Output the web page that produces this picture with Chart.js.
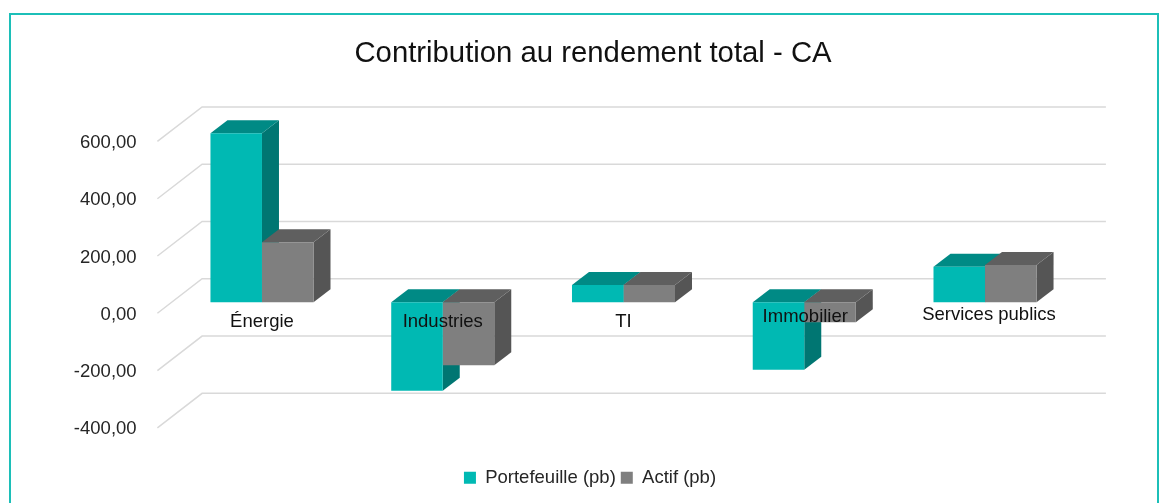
<!DOCTYPE html>
<html lang="fr">
<head>
<meta charset="utf-8">
<title>Contribution au rendement total - CA</title>
<script src="https://cdn.jsdelivr.net/npm/chart.js@4"></script>
<style>
  html, body { margin: 0; padding: 0; background: #fff; overflow: hidden; }
  #page { position: relative; width: 1168px; height: 503px; overflow: hidden; }
  #frame { position: absolute; left: 9px; top: 13px; width: 1146px; height: 520px; border: 2px solid #1cbfb8; }
  canvas { position: absolute; left: 0; top: 0; }
</style>
</head>
<body>
<div id="page">
  <div id="frame"></div>
  <canvas id="chart" width="1168" height="503"></canvas>
</div>
<script>
// data
const categories = ["Énergie", "Industries", "TI", "Immobilier", "Services publics"];
const portefeuille = [590, -309, 60, -236, 124];
const actif = [210, -220, 60, -70, 130];

// category labels don't sit on one line in the original
const labelDx = [0, 0, 0, 1, 4];
const labelDy = [20, 20, 20, 15, 13];

const FONT = "'Liberation Sans', Arial, sans-serif";
const TEXT = "#262626";

// depth of a bar, and how far the wall / front edge sit from the bar plane
const barDepth = { x: 17, y: 13 };
const wall = { x: 30.5, y: 23.5 };
const front = { x: 14.2, y: 11 };

const faces = [
    { top: "#008a85", side: "#007672" },
    { top: "#5f5f5f", side: "#555555" }
];

function poly(ctx, color, pts) {
    ctx.fillStyle = color;
    ctx.beginPath();
    pts.forEach((p, i) => i ? ctx.lineTo(p[0], p[1]) : ctx.moveTo(p[0], p[1]));
    ctx.closePath();
    ctx.fill();
}

// fake 3D: wall lines + top/side faces behind the normal bars
const depthPlugin = {
    id: "depth",
    afterLayout(chart) {
        // title and legend are not centred on the plot
        chart.titleBlock.left = 18;
        chart.titleBlock.right = 1168;
        chart.legend.left = 12;
        chart.legend.right = 1168;
    },
    beforeDatasetsDraw(chart) {
        const ctx = chart.ctx;
        const { left, right } = chart.chartArea;
        const yScale = chart.scales.y;

        ctx.save();
        ctx.strokeStyle = "#d9d9d9";
        ctx.lineWidth = 1.5;
        yScale.ticks.forEach(t => {
            const y = yScale.getPixelForValue(t.value);
            ctx.beginPath();
            ctx.moveTo(left - front.x, y + front.y);
            ctx.lineTo(left + wall.x, y - wall.y);
            ctx.lineTo(right + wall.x, y - wall.y);
            ctx.stroke();
        });

        chart.data.datasets.forEach((ds, d) => {
            chart.getDatasetMeta(d).data.forEach(bar => {
                const l = bar.x - bar.width / 2;
                const r = bar.x + bar.width / 2;
                const t = Math.min(bar.y, bar.base);
                const b = Math.max(bar.y, bar.base);
                poly(ctx, faces[d].side, [[r, t], [r + barDepth.x, t - barDepth.y], [r + barDepth.x, b - barDepth.y], [r, b]]);
                poly(ctx, faces[d].top, [[l, t], [l + barDepth.x, t - barDepth.y], [r + barDepth.x, t - barDepth.y], [r, t]]);
            });
        });
        ctx.restore();
    },
    afterDatasetsDraw(chart) {
        // category labels go over the bars
        const ctx = chart.ctx;
        const xScale = chart.scales.x;
        const y0 = chart.scales.y.getPixelForValue(0);
        ctx.save();
        ctx.font = "18.5px " + FONT;
        ctx.fillStyle = "#111111";
        ctx.textAlign = "center";
        ctx.textBaseline = "middle";
        categories.forEach((name, i) => {
            ctx.fillText(name, xScale.getPixelForTick(i) + labelDx[i], y0 + labelDy[i]);
        });
        ctx.restore();
    }
};

new Chart(document.getElementById("chart"), {
    type: "bar",
    plugins: [depthPlugin],
    data: {
        labels: categories,
        datasets: [
            { label: "Portefeuille (pb)", data: portefeuille, backgroundColor: "#00b9b3" },
            { label: "Actif (pb)", data: actif, backgroundColor: "#7f7f7f" }
        ]
    },
    options: {
        responsive: false,
        animation: false,
        layout: { padding: { left: 0, right: 92.6, top: 0, bottom: 6 } },
        datasets: { bar: { categoryPercentage: 0.57, barPercentage: 1 } },
        plugins: {
            title: {
                display: true,
                text: "Contribution au rendement total - CA",
                color: "#111111",
                font: { family: FONT, size: 29.3, weight: "normal" },
                padding: { top: 36.5, bottom: 58.8 }
            },
            legend: {
                position: "bottom",
                labels: {
                    color: TEXT,
                    font: { family: FONT, size: 18.5 },
                    boxWidth: 12,
                    boxHeight: 12,
                    padding: 5
                }
            },
            tooltip: { enabled: false }
        },
        scales: {
            x: {
                grid: { display: false, drawTicks: false },
                border: { display: false },
                ticks: { display: false },
                afterFit: s => { s.height = 46.7; }
            },
            y: {
                min: -400,
                max: 600,
                grid: { display: false, drawTicks: false },
                border: { display: false },
                ticks: {
                    stepSize: 200,
                    color: TEXT,
                    padding: 35,
                    labelOffset: 12.5,
                    font: { family: FONT, size: 18.5 },
                    callback: v => v.toFixed(2).replace(".", ",")
                },
                afterFit: s => { s.width = 171.6; }
            }
        }
    }
});
</script>
</body>
</html>
